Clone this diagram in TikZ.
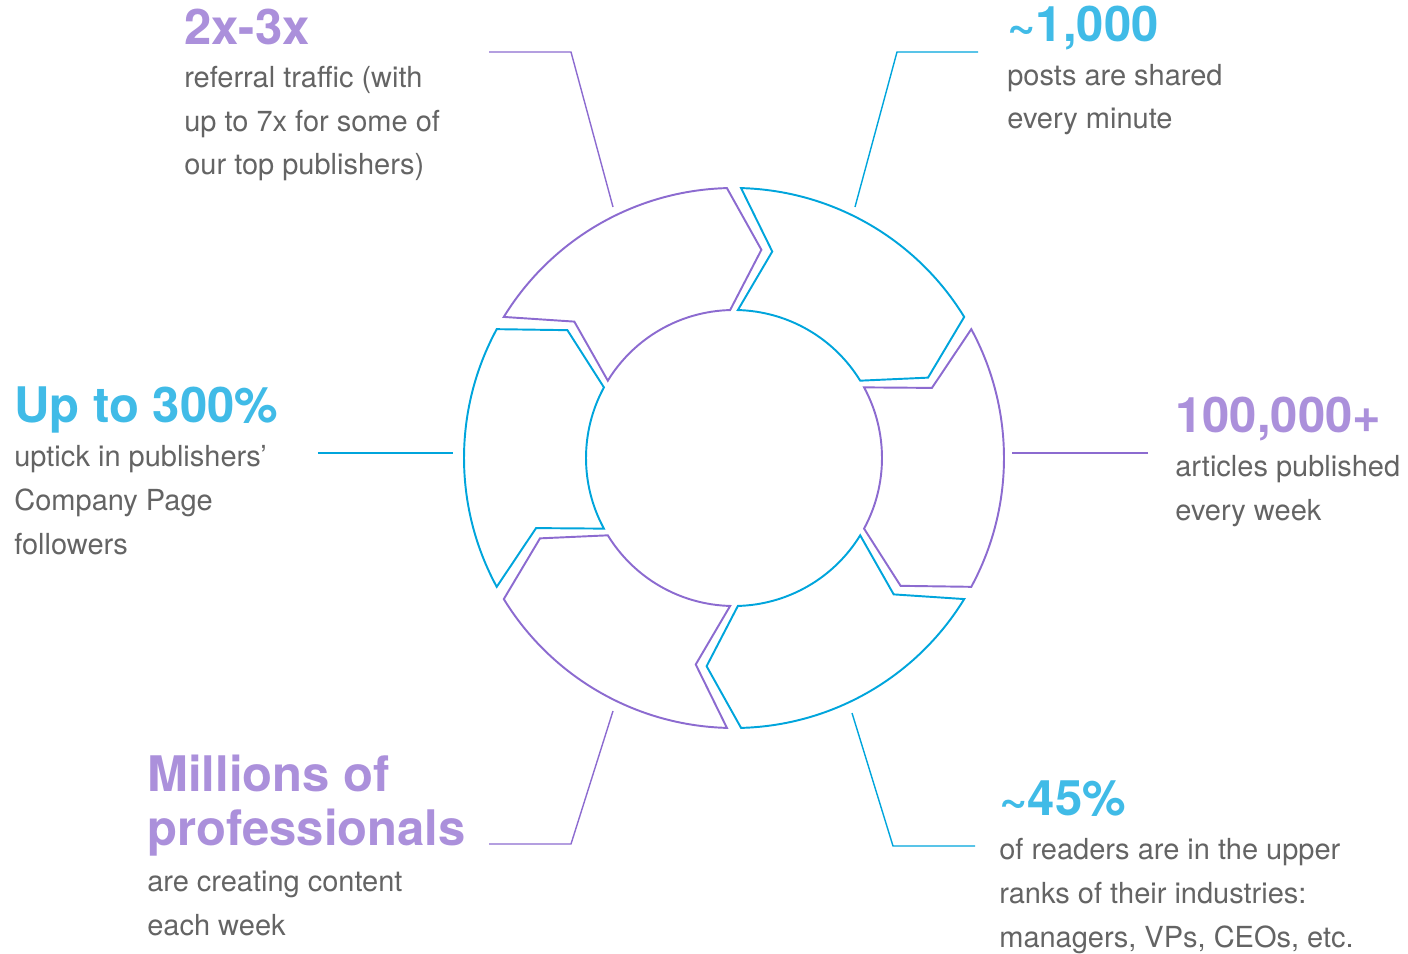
\documentclass[tikz,border=0pt]{standalone}
\usepackage{fontspec}
\setmainfont{TeX Gyre Heros}
\usepackage{tikz}
\definecolor{ringpurple}{RGB}{140,107,208}
\definecolor{ringcyan}{RGB}{0,165,220}
\definecolor{headpurple}{RGB}{171,144,219}
\definecolor{headcyan}{RGB}{64,187,231}
\definecolor{bodygrey}{RGB}{100,100,100}

% one chevron piece of the ring, #1 = middle angle
\newcommand{\ringarrow}[3]{%
  \draw[ring,#2] ({#1+28.5}:270) arc[start angle={#1+28.5}, end angle={#1-28.5}, radius=270]
    -- ({#1-37.5}:210) -- ({#1-28.5}:148)
    arc[start angle={#1-28.5}, end angle={#1+28.5}, radius=148]
    -- ({#1+19.5}:210) -- cycle;
  \coordinate (#3) at (#1:209);}

\begin{document}
\begin{tikzpicture}[x=0.02cm, y=0.02cm,
    ring/.style={line width=1.1pt, line join=miter},
    link/.style={line width=0.8pt},
    head/.style={font=\fontsize{27.9}{30.2}\selectfont\bfseries, anchor=base west, inner sep=0pt, align=left},
    body/.style={font=\fontsize{16.5}{25}\selectfont, text=bodygrey, anchor=base west, inner sep=0pt, align=left}]
        \useasboundingbox (-734,-495) rectangle (674,458);

        \ringarrow{120}{ringpurple}{referral}
        \ringarrow{60}{ringcyan}{posts}
        \ringarrow{0}{ringpurple}{articles}
        \ringarrow{-60}{ringcyan}{readers}
        \ringarrow{-120}{ringpurple}{creators}
        \ringarrow{180}{ringcyan}{followers}

        % base of a node = baseline of its last line
        \node[head, text=headpurple] (referralT) at (-550,413) {2x-3x};
        \node[body] (referralB) at (-550,283) {referral traffic (with\\up to 7x for some of\\our top publishers)};
        \node[head, text=headcyan] (postsT) at (273,416) {\textasciitilde1,000};
        \node[body] (postsB) at (273,329) {posts are shared\\every minute};
        \node[head, text=headcyan] (followersT) at (-720,35) {Up to 300\%};
        \node[body] (followersB) at (-720,-96) {uptick in publishers’\\Company Page\\followers};
        \node[head, text=headpurple] (articlesT) at (441,26) {100,000+};
        \node[body] (articlesB) at (441,-62) {articles published\\every week};
        \node[head, text=headpurple] (creatorsT) at (-587,-387) {Millions of\\professionals};
        \node[body] (creatorsB) at (-587,-477) {are creating content\\each week};
        \node[head, text=headcyan] (readersT) at (265,-357) {\textasciitilde45\%};
        \node[body] (readersB) at (265,-489) {of readers are in the upper\\ranks of their industries:\\managers, VPs, CEOs, etc.};

        \coordinate (referralA) at (-245,406);  \coordinate (referralK) at (-163,406);  \coordinate (referralE) at (-121,251);
        \coordinate (postsA) at (244,406);      \coordinate (postsK) at (163,406);      \coordinate (postsE) at (121,251);
        \coordinate (followersA) at (-416,5);   \coordinate (followersE) at (-281,5);
        \coordinate (articlesA) at (414,5);     \coordinate (articlesE) at (278,5);
        \coordinate (creatorsA) at (-245,-386); \coordinate (creatorsK) at (-163,-386); \coordinate (creatorsE) at (-121,-253);
        \coordinate (readersA) at (241,-388);   \coordinate (readersK) at (159,-388);   \coordinate (readersE) at (118,-255);

        \draw[link, ringpurple] (referralA) -- (referralK) -- (referralE);
        \draw[link, ringcyan] (postsA) -- (postsK) -- (postsE);
        \draw[link, ringcyan] (followersA) -- (followersE);
        \draw[link, ringpurple] (articlesA) -- (articlesE);
        \draw[link, ringpurple] (creatorsA) -- (creatorsK) -- (creatorsE);
        \draw[link, ringcyan] (readersA) -- (readersK) -- (readersE);
\end{tikzpicture}
\end{document}
